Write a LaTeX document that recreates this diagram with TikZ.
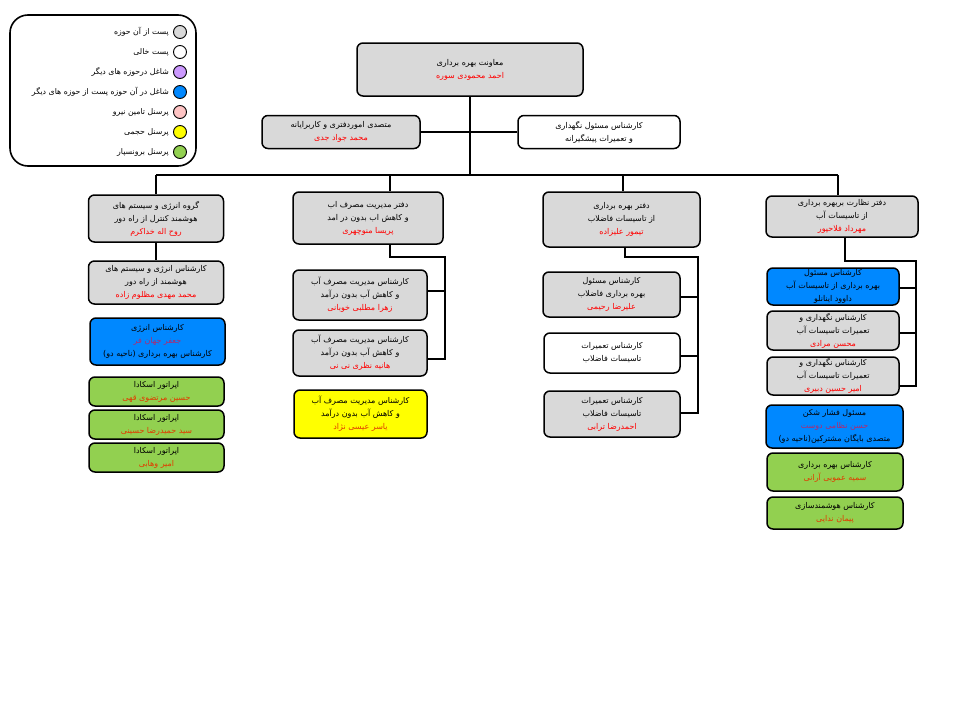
\documentclass[tikz,border=0pt]{standalone}
\usepackage{fontspec}
\setmainfont{DejaVu Sans}
\newfontfamily\arabicfont[Script=Arabic]{DejaVu Sans}
\TeXXeTstate=1
\usetikzlibrary{calc}

\definecolor{postgray}{HTML}{D9D9D9}
\definecolor{otherpurple}{HTML}{CC99FF}
\definecolor{sharedblue}{HTML}{0088FF}
\definecolor{supplypink}{HTML}{FFC4C4}
\definecolor{volumeyellow}{HTML}{FFFF00}
\definecolor{outsourcegreen}{HTML}{92D050}
\definecolor{namered}{HTML}{FF0000}
\definecolor{onblue}{HTML}{B02A70}
\definecolor{ongreen}{HTML}{E03C00}

% one right-to-left line, and one coloured name line
\newcommand\AR[1]{\beginR #1\endR}
\newcommand\NM[2][namered]{{\color{#1}\beginR #2\endR}}

\begin{document}
\begin{tikzpicture}[x=1pt,y=-1pt,
  unit/.style={draw, line width=1.5pt, rounded corners=6pt, align=center,
    inner sep=0pt, text=black,
    font=\arabicfont\fontsize{8}{13}\selectfont},
  graybox/.style={unit, fill=postgray},
  whitebox/.style={unit, fill=white},
  bluebox/.style={unit, fill=sharedblue},
  greenbox/.style={unit, fill=outsourcegreen},
  yellowbox/.style={unit, fill=volumeyellow},
  link/.style={line width=2pt},
  swatch/.style={circle, draw, line width=0.9pt, minimum size=13pt, inner sep=0pt},
  legendtext/.style={anchor=east, inner sep=0pt, font=\arabicfont\fontsize{7.8}{9}\selectfont},
  legendframe/.style={draw, line width=1.6pt, rounded corners=18pt, inner sep=0pt}
]
\fill[white] (0,0) rectangle (960,720);
\useasboundingbox (0,0) rectangle (960,720);

% ---------- legend ----------
\node[legendframe, minimum width=186pt, minimum height=151pt] (legend) at (103,90.5) {};
\node[swatch, fill=postgray]       (sw1) at (180,32) {};
\node[swatch, fill=white]          (sw2) at (180,52) {};
\node[swatch, fill=otherpurple]    (sw3) at (180,72) {};
\node[swatch, fill=sharedblue]     (sw4) at (180,92) {};
\node[swatch, fill=supplypink]     (sw5) at (180,112) {};
\node[swatch, fill=volumeyellow]   (sw6) at (180,132) {};
\node[swatch, fill=outsourcegreen] (sw7) at (180,152) {};
\node[legendtext] (lg1) at (169,32)  {\AR{پست از آن حوزه}};
\node[legendtext] (lg2) at (169,52)  {\AR{پست خالی}};
\node[legendtext] (lg3) at (169,72)  {\AR{شاغل درحوزه های دیگر}};
\node[legendtext] (lg4) at (169,92)  {\AR{شاغل در آن حوزه پست از حوزه های دیگر}};
\node[legendtext] (lg5) at (169,112) {\AR{پرسنل تامین نیرو}};
\node[legendtext] (lg6) at (169,132) {\AR{پرسنل حجمی}};
\node[legendtext] (lg7) at (169,152) {\AR{پرسنل برونسپار}};

% ---------- head ----------
\node[graybox, minimum width=226pt, minimum height=53pt] (head) at (470,69.5)
  {\AR{معاونت بهره برداری}\\\NM{احمد محمودی سوره}};
\node[graybox, minimum width=158pt, minimum height=33pt] (office) at (341,132)
  {\AR{متصدی اموردفتری و کاربرایانه}\\\NM{محمد جواد جدی}};
\node[whitebox, minimum width=162pt, minimum height=33pt] (maint) at (599,132)
  {\AR{کارشناس مسئول نگهداری}\\\AR{و تعمیرات پیشگیرانه}};

% ---------- column: energy ----------
\node[graybox, minimum width=135pt, minimum height=47pt] (a1) at (156,218.5)
  {\AR{گروه انرژی و سیستم های}\\\AR{هوشمند کنترل از راه دور}\\\NM{روح اله خداکرم}};
\node[graybox, minimum width=135pt, minimum height=43pt] (a2) at (156,282.5)
  {\AR{کارشناس انرژی و سیستم های}\\\AR{هوشمند از راه دور}\\\NM{محمد مهدی مظلوم زاده}};
\node[bluebox, minimum width=135pt, minimum height=47pt] (a3) at (157.5,341.5)
  {\AR{کارشناس انرژی}\\\NM[onblue]{جعفر جهان فر}\\\AR{کارشناس بهره برداری (ناحیه دو)}};
\node[greenbox, minimum width=135pt, minimum height=29pt] (a4) at (156.5,391.5)
  {\AR{اپراتور اسکادا}\\\NM[ongreen]{حسین مرتضوی قهی}};
\node[greenbox, minimum width=135pt, minimum height=29pt] (a5) at (156.5,424.5)
  {\AR{اپراتور اسکادا}\\\NM[ongreen]{سید حمیدرضا حسینی}};
\node[greenbox, minimum width=135pt, minimum height=29pt] (a6) at (156.5,457.5)
  {\AR{اپراتور اسکادا}\\\NM[ongreen]{امیر وهابی}};

% ---------- column: water consumption ----------
\node[graybox, minimum width=150pt, minimum height=52pt] (b1) at (368,218)
  {\AR{دفتر مدیریت مصرف اب}\\\AR{و کاهش اب بدون در امد}\\\NM{پریسا منوچهری}};
\node[graybox, minimum width=134pt, minimum height=50pt] (b2) at (360,295)
  {\AR{کارشناس مدیریت مصرف آب}\\\AR{و کاهش آب بدون درآمد}\\\NM{زهرا مطلبی خوبانی}};
\node[graybox, minimum width=134pt, minimum height=46pt] (b3) at (360,353)
  {\AR{کارشناس مدیریت مصرف آب}\\\AR{و کاهش آب بدون درآمد}\\\NM{هانیه نظری نی نی}};
\node[yellowbox, minimum width=133pt, minimum height=48pt] (b4) at (360.5,414)
  {\AR{کارشناس مدیریت مصرف آب}\\\AR{و کاهش آب بدون درآمد}\\\NM[ongreen]{یاسر عیسی نژاد}};

% ---------- column: wastewater ----------
\node[graybox, minimum width=157pt, minimum height=55pt] (c1) at (621.5,219.5)
  {\AR{دفتر بهره برداری}\\\AR{از تاسیسات فاضلاب}\\\NM{تیمور علیزاده}};
\node[graybox, minimum width=137pt, minimum height=45pt] (c2) at (611.5,294.5)
  {\AR{کارشناس مسئول}\\\AR{بهره برداری فاضلاب}\\\NM{علیرضا رحیمی}};
\node[whitebox, minimum width=136pt, minimum height=40pt] (c3) at (612,353)
  {\AR{کارشناس تعمیرات}\\\AR{تاسیسات فاضلاب}};
\node[graybox, minimum width=136pt, minimum height=46pt] (c4) at (612,414)
  {\AR{کارشناس تعمیرات}\\\AR{تاسیسات فاضلاب}\\\NM{احمدرضا ترابی}};

% ---------- column: water facilities ----------
\node[graybox, minimum width=152pt, minimum height=41pt] (d1) at (842,216.5)
  {\AR{دفتر نظارت بربهره برداری}\\\AR{از تاسیسات آب}\\\NM{مهرداد فلاحپور}};
\node[bluebox, minimum width=132pt, minimum height=37pt] (d2) at (833,286.5)
  {\AR{کارشناس مسئول}\\\AR{بهره برداری از تاسیسات آب}\\\AR{داوود اینانلو}};
\node[graybox, minimum width=132pt, minimum height=39pt] (d3) at (833,330.5)
  {\AR{کارشناس نگهداری و}\\\AR{تعمیرات تاسیسات آب}\\\NM{محسن مرادی}};
\node[graybox, minimum width=132pt, minimum height=38pt] (d4) at (833,376)
  {\AR{کارشناس نگهداری و}\\\AR{تعمیرات تاسیسات آب}\\\NM{امیر حسین دبیری}};
\node[bluebox, minimum width=137pt, minimum height=43pt] (d5) at (834.5,426.5)
  {\AR{مسئول فشار شکن}\\\NM[onblue]{حسن نظامی دوست}\\\AR{متصدی بایگان مشترکین(ناحیه دو)}};
\node[greenbox, minimum width=136pt, minimum height=38pt] (d6) at (835,472)
  {\AR{کارشناس بهره برداری}\\\NM[ongreen]{سمیه عمویی آرانی}};
\node[greenbox, minimum width=136pt, minimum height=32pt] (d7) at (835,513)
  {\AR{کارشناس هوشمندسازی}\\\NM[ongreen]{پیمان ندایی}};

% ---------- connectors ----------
\coordinate (busL) at (156,175);
\coordinate (busR) at (838,175);
\draw[link] (busL) -- (busR);
\draw[link] (head.south) -- (head.south |- busL);
\draw[link] (office.east) -- (maint.west);

% energy column
\draw[link] (busL) -- (busL |- a1.north);
\draw[link] (a1.south) -- (a2.north);

% water consumption column
\coordinate (b-top) at (390,175);
\coordinate (b-jog) at (390,257);
\coordinate (b-rail) at (445,257);
\coordinate (b-br2) at (445,291);
\coordinate (b-end) at (445,359);
\draw[link] (b-top) -- (b-top |- b1.north);
\draw[link] (b-jog |- b1.south) -- (b-jog) -- (b-rail) -- (b-end) -- (b-end -| b3.east);
\draw[link] (b-br2) -- (b-br2 -| b2.east);

% wastewater column
\coordinate (c-top) at (623,175);
\coordinate (c-jog) at (625,257);
\coordinate (c-rail) at (698,257);
\coordinate (c-br2) at (698,297);
\coordinate (c-br3) at (698,356);
\coordinate (c-end) at (698,413);
\draw[link] (c-top) -- (c-top |- c1.north);
\draw[link] (c-jog |- c1.south) -- (c-jog) -- (c-rail) -- (c-end) -- (c-end -| c4.east);
\draw[link] (c-br2) -- (c-br2 -| c2.east);
\draw[link] (c-br3) -- (c-br3 -| c3.east);

% water facilities column
\coordinate (d-jog) at (845,261);
\coordinate (d-rail) at (916,261);
\coordinate (d-br2) at (916,288);
\coordinate (d-br3) at (916,333);
\coordinate (d-end) at (916,386);
\draw[link] (busR) -- (busR |- d1.north);
\draw[link] (d-jog |- d1.south) -- (d-jog) -- (d-rail) -- (d-end) -- (d-end -| d4.east);
\draw[link] (d-br2) -- (d-br2 -| d2.east);
\draw[link] (d-br3) -- (d-br3 -| d3.east);
\end{tikzpicture}
\end{document}
